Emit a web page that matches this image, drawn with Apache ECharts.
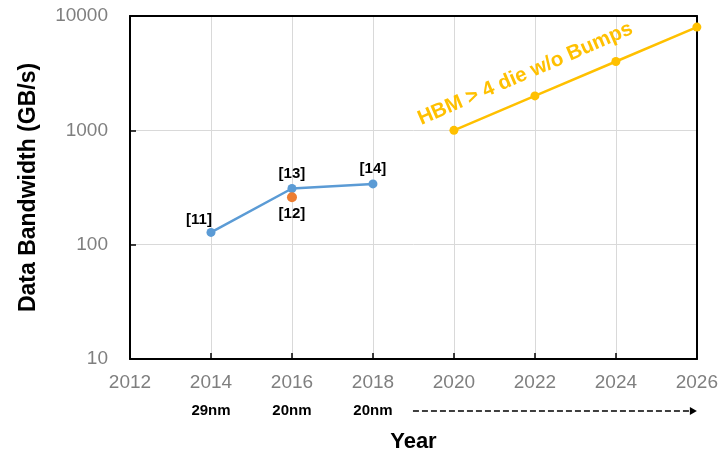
<!DOCTYPE html>
<html>
<head>
<meta charset="utf-8">
<script src="https://cdn.jsdelivr.net/npm/echarts@6/dist/echarts.min.js"></script>
<style>
  html, body { margin: 0; padding: 0; background: #fff; }
  #chart { width: 721px; height: 459px; }
</style>
</head>
<body>
<div id="chart"></div>
<script>
// Measured bandwidth of published designs
const measuredYears = [2014, 2016, 2018];
const measuredBandwidth = [128, 310, 340];
const measuredRefs = ['[11]', '[13]', '[14]'];

// Second design reported in 2016
const altYears = [2016];
const altBandwidth = [260];
const altRefs = ['[12]'];

// Projected HBM stacks (>4 die, bumpless)
const projYears = [2020, 2022, 2024, 2026];
const projBandwidth = [1000, 2000, 4000, 8000];
const projCaption = 'HBM > 4 die w/o Bumps';

// Process node shown under each measured year
const nodeYears = [2014, 2016, 2018];
const nodeLabels = ['29nm', '20nm', '20nm'];

const yearTicks = [2012, 2014, 2016, 2018, 2020, 2022, 2024, 2026];
const bandwidthTicks = [10, 100, 1000, 10000];

const pairs = (xs, ys) => xs.map((x, i) => [x, ys[i]]);

const chart = echarts.init(document.getElementById('chart'), null, { renderer: 'canvas' });

const FONT = 'Liberation Sans, Arial, sans-serif';
const tickFont = { fontFamily: FONT, fontSize: 19, color: '#7f7f7f' };
const frameLine = { show: true, lineStyle: { color: '#000', width: 2 } };
const xMin = yearTicks[0], xMax = yearTicks[yearTicks.length - 1];
const yMin = bandwidthTicks[0], yMax = bandwidthTicks[bandwidthTicks.length - 1];

const option = {
  animation: false,
  backgroundColor: '#ffffff',
  grid: { left: 130, right: 24, top: 16, bottom: 100 },
  xAxis: [
    {
      type: 'value', min: xMin, max: xMax, interval: 2,
      name: 'Year', nameLocation: 'middle', nameGap: 72,
      nameTextStyle: { fontFamily: FONT, fontSize: 22, fontWeight: 'bold', color: '#000' },
      axisLine: frameLine,
      axisTick: { show: true, inside: true, length: 6, lineStyle: { color: '#000', width: 1.5 } },
      splitLine: { show: true, lineStyle: { color: '#d9d9d9', width: 1 } },
      axisLabel: Object.assign({ margin: 14, formatter: v => String(v) }, tickFont)
    },
    {
      // process node row under the year labels
      type: 'value', position: 'bottom', min: xMin, max: xMax, interval: 2,
      axisLine: { show: false }, axisTick: { show: false }, splitLine: { show: false },
      axisLabel: {
        margin: 44, fontFamily: FONT, fontSize: 15, fontWeight: 'bold', color: '#000',
        formatter: v => { const i = nodeYears.indexOf(v); return i >= 0 ? nodeLabels[i] : ''; }
      }
    },
    {
      // top frame edge
      type: 'value', position: 'top', min: xMin, max: xMax,
      axisLine: frameLine, axisTick: { show: false }, axisLabel: { show: false }, splitLine: { show: false },
      z: 1
    }
  ],
  yAxis: [
    {
      type: 'log', logBase: 10, min: yMin, max: yMax,
      name: 'Data Bandwidth (GB/s)', nameLocation: 'middle', nameGap: 90,
      nameTextStyle: { fontFamily: FONT, fontSize: 23, fontWeight: 'bold', color: '#000' },
      axisLine: frameLine,
      axisTick: { show: true, inside: true, length: 6, lineStyle: { color: '#000', width: 1.5 } },
      splitLine: { show: true, lineStyle: { color: '#d9d9d9', width: 1 } },
      axisLabel: Object.assign({ margin: 22, formatter: v => String(Math.round(v)) }, tickFont)
    },
    {
      // right frame edge
      type: 'log', logBase: 10, position: 'right', min: yMin, max: yMax,
      axisLine: frameLine, axisTick: { show: false }, axisLabel: { show: false }, splitLine: { show: false },
      z: 1
    }
  ],
  series: [
    {
      type: 'line',
      data: pairs(measuredYears, measuredBandwidth),
      symbol: 'circle', symbolSize: 9,
      lineStyle: { color: '#5B9BD5', width: 2.5 },
      itemStyle: { color: '#5B9BD5' },
      label: {
        show: true, position: 'top', distance: 3,
        fontFamily: FONT, fontSize: 15, fontWeight: 'bold', color: '#000',
        formatter: p => measuredRefs[p.dataIndex]
      },
      labelLayout: p => p.dataIndex === 0 ? { dx: -12, dy: 2 } : {},
      z: 3
    },
    {
      type: 'scatter',
      data: pairs(altYears, altBandwidth),
      symbol: 'circle', symbolSize: 10,
      itemStyle: { color: '#ED7D31', opacity: 1 },
      label: {
        show: true, position: 'bottom', distance: 4,
        fontFamily: FONT, fontSize: 15, fontWeight: 'bold', color: '#000',
        formatter: p => altRefs[p.dataIndex]
      },
      z: 4
    },
    {
      type: 'line',
      data: pairs(projYears, projBandwidth).map((d, i) => i === 1 ? {
        value: d,
        label: {
          show: true, formatter: projCaption,
          position: ['50%', '50%'], offset: [0, -24],
          rotate: 23.4, align: 'center', verticalAlign: 'middle',
          fontFamily: FONT, fontSize: 20.5, fontWeight: 'bold', color: '#FFC000'
        }
      } : d),
      symbol: 'circle', symbolSize: 9,
      lineStyle: { color: '#FFC000', width: 2.5 },
      itemStyle: { color: '#FFC000' },
      z: 3
    }
  ]
};

chart.setOption(option);

// Dashed arrow under the axis, from after the last node label to the end of the axis
function drawArrow() {
  const lastNode = nodeYears[nodeYears.length - 1];
  const x0 = chart.convertToPixel({ xAxisIndex: 0 }, lastNode) + 40;
  const x1 = chart.convertToPixel({ xAxisIndex: 0 }, xMax);
  const y = chart.convertToPixel({ yAxisIndex: 0 }, yMin) + 52;
  chart.setOption({
    graphic: [
      {
        type: 'line', silent: true,
        shape: { x1: x0, y1: y, x2: x1 - 6, y2: y },
        style: { stroke: '#000', lineWidth: 1.6, lineDash: [6, 3] }
      },
      {
        type: 'polygon', silent: true,
        shape: { points: [[x1 - 7, y - 4], [x1, y], [x1 - 7, y + 4]] },
        style: { fill: '#000' }
      }
    ]
  });
}
drawArrow();
</script>
</body>
</html>
